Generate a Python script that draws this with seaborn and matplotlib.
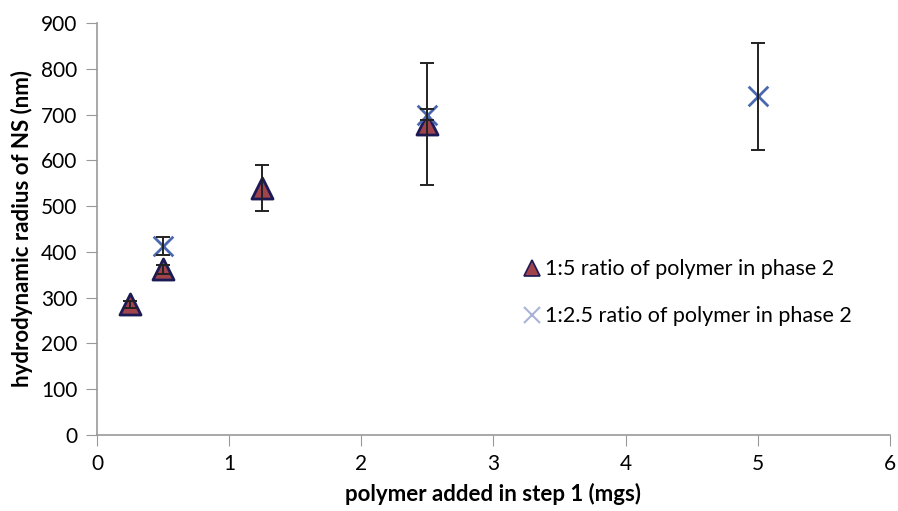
import numpy as np
import pandas as pd
import seaborn as sns
import matplotlib.pyplot as plt
from matplotlib.lines import Line2D

# data
x_tri = [0.25, 0.5, 1.25, 2.5]
y_tri = [285, 362, 540, 680]
err_tri = [8, 10, 50, 133]

x_cross = [0.5, 2.5, 5.0]
y_cross = [412, 700, 740]
err_cross = [20, 13, 117]

label_tri = "1:5 ratio of polymer in phase 2"
label_cross = "1:2.5 ratio of polymer in phase 2"

df = pd.DataFrame({
    "polymer": x_tri + x_cross,
    "radius": y_tri + y_cross,
    "err": err_tri + err_cross,
    "series": [label_tri] * len(x_tri) + [label_cross] * len(x_cross),
})

sns.set_style("white")
plt.rcParams["font.family"] = ["Lato", "DejaVu Sans"]
plt.rcParams["text.color"] = "black"
plt.rcParams["axes.labelcolor"] = "black"
plt.rcParams["xtick.labelcolor"] = "black"
plt.rcParams["ytick.labelcolor"] = "black"

fig = plt.figure(figsize=(8.98, 5.11), dpi=100)
ax = fig.add_axes([0.108, 0.149, 0.883, 0.806])

tri = df[df["series"] == label_tri]
crs = df[df["series"] == label_cross]

sns.scatterplot(data=tri, x="polymer", y="radius", marker="^", s=230,
                color="#a0434c", edgecolor="#1c1a55", linewidth=2,
                ax=ax, zorder=2, legend=False)
sns.scatterplot(data=crs, x="polymer", y="radius", marker="x", s=200,
                color="#4a68b0", linewidth=2, ax=ax, zorder=2, legend=False)

for d in (tri, crs):
    ax.errorbar(d["polymer"], d["radius"], yerr=d["err"], fmt="none",
                ecolor="#222222", elinewidth=1.4, capsize=5, capthick=1.4,
                zorder=3)

ax.set_xlim(0, 6)
ax.set_ylim(0, 900)
ax.set_xticks(range(0, 7))
ax.set_yticks(range(0, 1000, 100))
ax.tick_params(axis="both", labelsize=15, length=8, color="#999999",
               labelcolor="black", direction="out", bottom=True, left=True,
               pad=6)
for s in ("top", "right"):
    ax.spines[s].set_visible(False)
for s in ("left", "bottom"):
    ax.spines[s].set_color("#999999")
    ax.spines[s].set_linewidth(1.2)

ax.set_xlabel("polymer added in step 1 (mgs)", fontsize=16, fontweight="bold",
              labelpad=6)
ax.set_ylabel("hydrodynamic radius of NS (nm)", fontsize=16,
              fontweight="bold", labelpad=6)

handles = [
    Line2D([], [], marker="^", linestyle="none", markersize=11,
           markerfacecolor="#a0434c", markeredgecolor="#1c1a55",
           markeredgewidth=1.2),
    Line2D([], [], marker="x", linestyle="none", markersize=11,
           color="#a9b3d6", markeredgewidth=1.5),
]
ax.legend(handles, [label_tri, label_cross], loc="center left",
          bbox_to_anchor=(0.535, 0.345), frameon=False, fontsize=15.5,
          handletextpad=0.1, labelspacing=1.25, handlelength=1.0,
          borderaxespad=0, borderpad=0)

fig.savefig("out.png", dpi=100)
